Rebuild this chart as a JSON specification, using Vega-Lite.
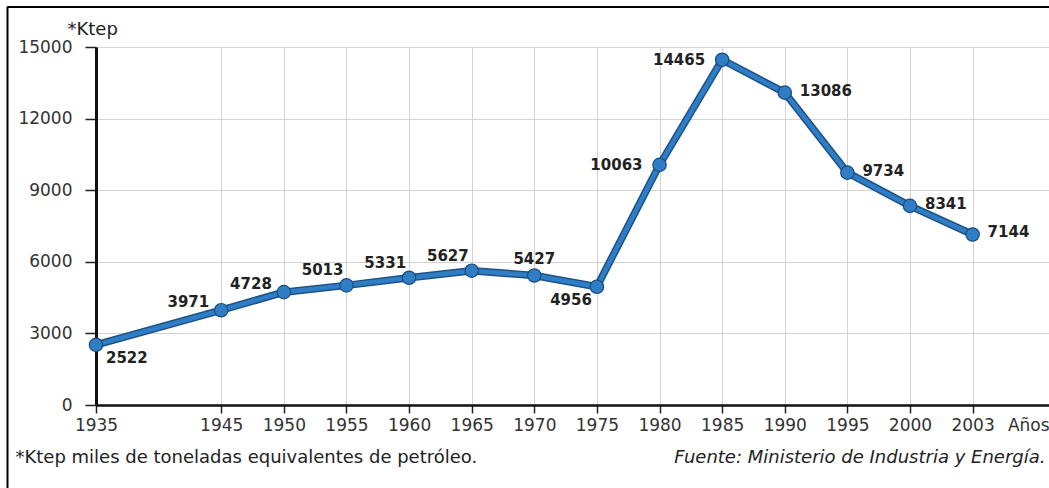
{
  "$schema": "https://vega.github.io/schema/vega-lite/v6.json",
  "width": 953,
  "height": 358,
  "autosize": {"type": "none"},
  "padding": {"left": 96, "top": 47, "right": 0, "bottom": 83},
  "background": "white",
  "config": {
    "view": {"stroke": null},
    "font": "DejaVu Sans",
    "axis": {"labelFont": "DejaVu Sans", "titleFont": "DejaVu Sans"},
    "text": {"font": "DejaVu Sans"}
  },
  "data": {
    "values": [
      {"year": "1935", "value": 2522},
      {"year": "1945", "value": 3971},
      {"year": "1950", "value": 4728},
      {"year": "1955", "value": 5013},
      {"year": "1960", "value": 5331},
      {"year": "1965", "value": 5627},
      {"year": "1970", "value": 5427},
      {"year": "1975", "value": 4956},
      {"year": "1980", "value": 10063},
      {"year": "1985", "value": 14465},
      {"year": "1990", "value": 13086},
      {"year": "1995", "value": 9734},
      {"year": "2000", "value": 8341},
      {"year": "2003", "value": 7144}
    ]
  },
  "layer": [
    {
      "encoding": {
        "x": {
          "field": "year",
          "type": "ordinal",
          "scale": {
            "type": "point",
            "domain": ["1935", "1940", "1945", "1950", "1955", "1960", "1965", "1970", "1975", "1980", "1985", "1990", "1995", "2000", "2003", "Años"],
            "padding": 0.11,
            "align": 0
          },
          "axis": {
            "values": ["1935", "1945", "1950", "1955", "1960", "1965", "1970", "1975", "1980", "1985", "1990", "1995", "2000", "2003", "Años"],
            "domainColor": "#111111",
            "domainWidth": 2.5,
            "tickColor": "#222222",
            "tickWidth": 1.5,
            "tickSize": 8,
            "tickOpacity": {"condition": {"test": "datum.value === 'Años'", "value": 0}, "value": 1},
            "grid": true,
            "gridColor": "#d3d3d3",
            "gridWidth": 1,
            "gridOpacity": {"condition": {"test": "datum.value === 'Años'", "value": 0}, "value": 1},
            "labelAngle": 0,
            "labelFont": "DejaVu Sans",
            "labelFontSize": 17,
            "labelColor": "#333333",
            "labelPadding": 4,
            "labelOffset": {"condition": {"test": "datum.value === 'Años'", "value": -7}, "value": 0},
            "title": "*Ktep  miles de toneladas equivalentes de petróleo.",
            "titleX": -81,
            "titleY": 57,
            "titleAlign": "left",
            "titleAnchor": "start",
            "titleBaseline": "alphabetic",
            "titleFont": "DejaVu Sans",
            "titleFontWeight": "normal",
            "titleFontSize": 18,
            "titleColor": "#222222"
          }
        },
        "y": {
          "field": "value",
          "type": "quantitative",
          "scale": {"domain": [0, 15000], "nice": false},
          "axis": {
            "values": [0, 3000, 6000, 9000, 12000, 15000],
            "format": "d",
            "domainColor": "#111111",
            "domainWidth": 3,
            "tickColor": "#222222",
            "tickWidth": 1.5,
            "tickSize": 11,
            "grid": true,
            "gridColor": "#d3d3d3",
            "gridWidth": 1,
            "labelFont": "DejaVu Sans",
            "labelFontSize": 17,
            "labelColor": "#333333",
            "labelPadding": 13,
            "title": "*Ktep",
            "titleAngle": 0,
            "titleX": -29,
            "titleY": -13,
            "titleAlign": "left",
            "titleBaseline": "alphabetic",
            "titleFont": "DejaVu Sans",
            "titleFontWeight": "normal",
            "titleFontSize": 18,
            "titleColor": "#222222"
          }
        }
      },
      "layer": [
        {"mark": {"type": "line", "color": "#1c5288", "strokeWidth": 7.5, "strokeJoin": "round"}},
        {"mark": {"type": "line", "color": "#2f7ec5", "strokeWidth": 4.5, "strokeJoin": "round"}},
        {"mark": {"type": "circle", "size": 180, "color": "#2f7ec5", "stroke": "#1b4c7c", "strokeWidth": 1.2, "opacity": 1}},
        {
          "transform": [{"filter": {"field": "year", "oneOf": ["1945", "1950"]}}],
          "mark": {"type": "text", "align": "right", "baseline": "middle", "dx": -12, "dy": -8, "fontWeight": "bold", "fontSize": 15, "color": "#222222"},
          "encoding": {"text": {"field": "value", "type": "quantitative", "format": "d"}}
        },
        {
          "transform": [{"filter": {"field": "year", "oneOf": ["1955", "1960", "1965"]}}],
          "mark": {"type": "text", "align": "right", "baseline": "middle", "dx": -3, "dy": -15, "fontWeight": "bold", "fontSize": 15, "color": "#222222"},
          "encoding": {"text": {"field": "value", "type": "quantitative", "format": "d"}}
        },
        {
          "transform": [{"filter": {"field": "year", "oneOf": ["1970"]}}],
          "mark": {"type": "text", "align": "center", "baseline": "middle", "dx": 0, "dy": -16, "fontWeight": "bold", "fontSize": 15, "color": "#222222"},
          "encoding": {"text": {"field": "value", "type": "quantitative", "format": "d"}}
        },
        {
          "transform": [{"filter": {"field": "year", "oneOf": ["1975"]}}],
          "mark": {"type": "text", "align": "right", "baseline": "middle", "dx": -5, "dy": 13, "fontWeight": "bold", "fontSize": 15, "color": "#222222"},
          "encoding": {"text": {"field": "value", "type": "quantitative", "format": "d"}}
        },
        {
          "transform": [{"filter": {"field": "year", "oneOf": ["1935"]}}],
          "mark": {"type": "text", "align": "left", "baseline": "middle", "dx": 10, "dy": 13, "fontWeight": "bold", "fontSize": 15, "color": "#222222"},
          "encoding": {"text": {"field": "value", "type": "quantitative", "format": "d"}}
        },
        {
          "transform": [{"filter": {"field": "year", "oneOf": ["1980", "1985"]}}],
          "mark": {"type": "text", "align": "right", "baseline": "middle", "dx": -17, "dy": 0, "fontWeight": "bold", "fontSize": 15, "color": "#222222"},
          "encoding": {"text": {"field": "value", "type": "quantitative", "format": "d"}}
        },
        {
          "transform": [{"filter": {"field": "year", "oneOf": ["1990", "1995", "2000", "2003"]}}],
          "mark": {"type": "text", "align": "left", "baseline": "middle", "dx": 15, "dy": -2, "fontWeight": "bold", "fontSize": 15, "color": "#222222"},
          "encoding": {"text": {"field": "value", "type": "quantitative", "format": "d"}}
        }
      ]
    },
    {
      "mark": {"type": "point", "opacity": 0},
      "encoding": {
        "x": {
          "field": "value",
          "type": "quantitative",
          "scale": {"domain": [0, 15000], "range": [-89, 953], "nice": false, "zero": false},
          "axis": {
            "orient": "top",
            "offset": 40.5,
            "domain": true,
            "domainColor": "#000000",
            "domainWidth": 2,
            "ticks": false,
            "labels": false,
            "grid": false,
            "title": "Fuente: Ministerio de Industria y Energía.",
            "titleX": 949,
            "titleY": 455.5,
            "titleAlign": "right",
            "titleAnchor": "end",
            "titleBaseline": "alphabetic",
            "titleFont": "DejaVu Sans",
            "titleFontStyle": "italic",
            "titleFontWeight": "normal",
            "titleFontSize": 18,
            "titleColor": "#222222"
          }
        },
        "y": {
          "field": "value",
          "type": "quantitative",
          "scale": {"domain": [0, 15000], "range": [441, -41], "nice": false, "zero": false},
          "axis": {
            "orient": "left",
            "offset": 89,
            "domain": true,
            "domainColor": "#000000",
            "domainWidth": 2,
            "ticks": false,
            "labels": false,
            "grid": false,
            "title": null
          }
        }
      }
    }
  ],
  "resolve": {"scale": {"x": "independent", "y": "independent"}}
}
